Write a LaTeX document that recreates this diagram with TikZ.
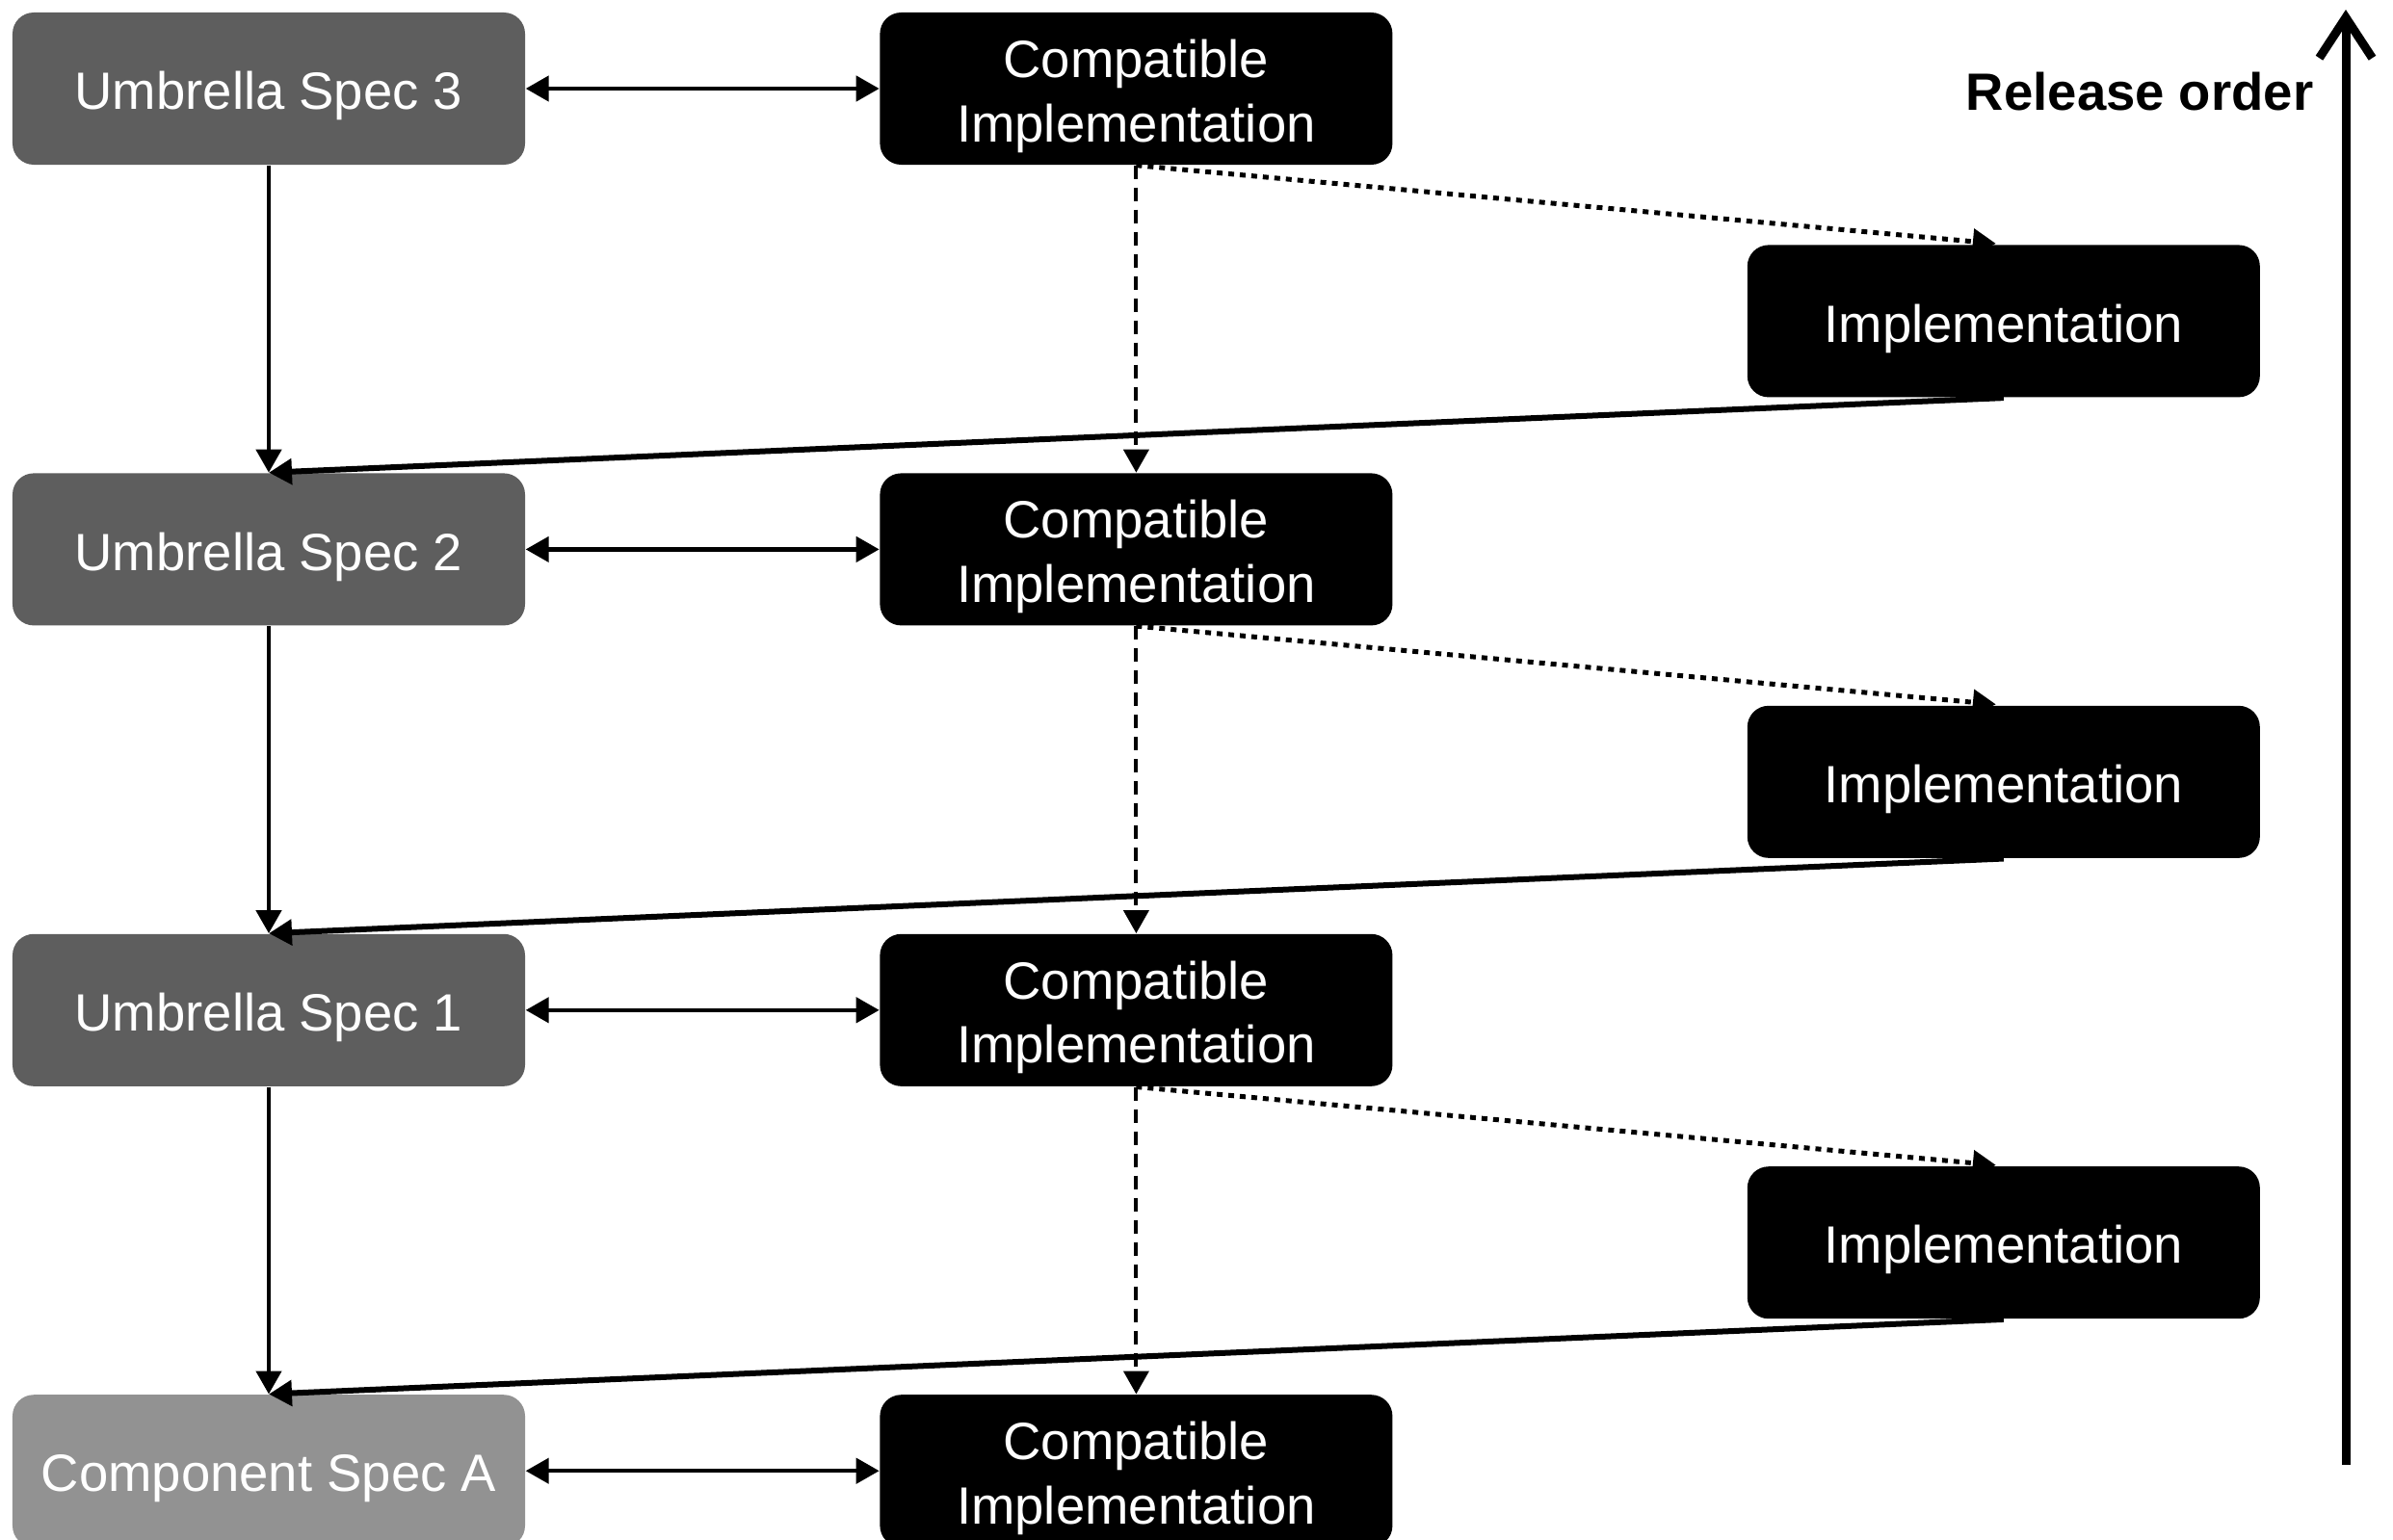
\documentclass[tikz,border=0pt]{standalone}
\usepackage{fontspec}
\setmainfont{Liberation Sans}
\usetikzlibrary{arrows.meta,positioning}
\definecolor{umbrellagray}{RGB}{94,94,94}
\definecolor{componentgray}{RGB}{146,146,146}
\newcommand{\topstrut}{\rule{0pt}{15.6pt}}
\tikzstyle{spec} = [rectangle, rounded corners=0.22cm, minimum width=5.32cm, minimum height=1.58cm, text centered, fill=umbrellagray, text=white, font=\fontsize{15.5}{19}\selectfont]
\tikzstyle{component} = [spec, fill=componentgray]
\tikzstyle{impl} = [spec, fill=black]
\tikzstyle{arrow} = [-{Triangle[length=0.24cm, width=0.26cm]}, line width=0.45mm]
\tikzstyle{biarrow} = [{Triangle[length=0.24cm, width=0.26cm]}-{Triangle[length=0.24cm, width=0.26cm]}, line width=0.45mm]
\tikzstyle{dashedarrow} = [arrow, dash pattern=on 1.4mm off 0.9mm, line width=0.4mm]
\tikzstyle{dottedarrow} = [arrow, dash pattern=on 0.6mm off 0.6mm, line width=0.5mm]

\begin{document}
\begin{tikzpicture}[every text node part/.style={align=center}]
		
		\useasboundingbox (0,0) rectangle (24.84,-15.99);
		
		\node (spec3) [spec] at (2.79,-0.92) {\topstrut Umbrella Spec 3};
		\node (compat3) [impl, right = 3.67cm of spec3] {\topstrut Compatible\\Implementation};
		\node (impl3) [impl, below right = 0.82cm and 3.67cm of compat3] {\topstrut Implementation};
		
		\node (spec2) [spec, below = 3.19cm of spec3] {\topstrut Umbrella Spec 2};
		\node (compat2) [impl, right = 3.67cm of spec2] {\topstrut Compatible\\Implementation};
		\node (impl2) [impl, below right = 0.82cm and 3.67cm of compat2] {\topstrut Implementation};
		
		\node (spec1) [spec, below = 3.19cm of spec2] {\topstrut Umbrella Spec 1};
		\node (compat1) [impl, right = 3.67cm of spec1] {\topstrut Compatible\\Implementation};
		\node (impl1) [impl, below right = 0.82cm and 3.67cm of compat1] {\topstrut Implementation};
		
		\node (specA) [component, below = 3.19cm of spec1] {\topstrut Component Spec A};
		\node (compatA) [impl, right = 3.67cm of specA] {\topstrut Compatible\\Implementation};
		
		% release order
		\coordinate (order_start) at (24.35,-15.21);
		\coordinate (order_end) at (24.35,-0.1);
		\node (order) [anchor=east, inner sep=0pt, font=\fontsize{15.5}{19}\selectfont\bfseries] at (24.02,-0.95) {Release order};
		\draw [-{Straight Barb[length=0.42cm, width=0.55cm]}, line width=0.9mm] (order_start) -- (order_end);
		
		\draw [biarrow] (spec3.east) -- (compat3.west);
		\draw [biarrow] (spec2.east) -- (compat2.west);
		\draw [biarrow] (spec1.east) -- (compat1.west);
		\draw [biarrow] (specA.east) -- (compatA.west);
		
		\draw [arrow] (spec3.south) -- (spec2.north);
		\draw [arrow] (spec2.south) -- (spec1.north);
		\draw [arrow] (spec1.south) -- (specA.north);
		
		\draw [arrow, line width=0.6mm] (impl3.south) -- (spec2.north);
		\draw [arrow, line width=0.6mm] (impl2.south) -- (spec1.north);
		\draw [arrow, line width=0.6mm] (impl1.south) -- (specA.north);
		
		\draw [dashedarrow] (compat3.south) -- (compat2.north);
		\draw [dashedarrow] (compat2.south) -- (compat1.north);
		\draw [dashedarrow] (compat1.south) -- (compatA.north);
		
		\draw [dottedarrow, shorten >=0.08cm] (compat3.south) -- (impl3.north);
		\draw [dottedarrow, shorten >=0.08cm] (compat2.south) -- (impl2.north);
		\draw [dottedarrow, shorten >=0.08cm] (compat1.south) -- (impl1.north);
		
\end{tikzpicture}
\end{document}
